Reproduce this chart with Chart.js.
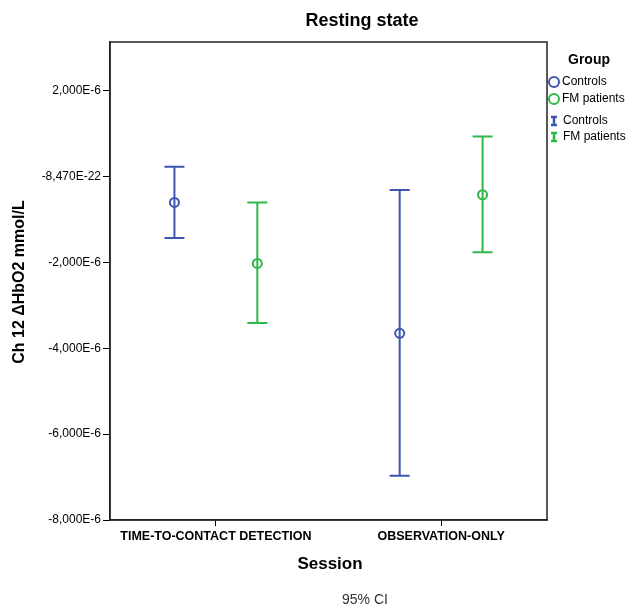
<!DOCTYPE html>
<html>
<head>
<meta charset="utf-8">
<script src="https://cdn.jsdelivr.net/npm/chart.js@4.4.1/dist/chart.umd.min.js"></script>
<style>
  html, body { margin: 0; padding: 0; background: #fff; }
</style>
</head>
<body>
<canvas id="myChart" width="630" height="608"></canvas>
<script>
const sessions = ['TIME-TO-CONTACT DETECTION', 'OBSERVATION-ONLY'];
const groups = ['Controls', 'FM patients'];
const groupColors = ['#3d55b0', '#2eb848'];

// means and 95% CI bounds per session
const controlsMean = [-0.60e-6, -3.65e-6];
const controlsLow = [-1.43e-6, -6.97e-6];
const controlsHigh = [0.235e-6, -0.31e-6];
const fmMean = [-2.02e-6, -0.42e-6];
const fmLow = [-3.41e-6, -1.76e-6];
const fmHigh = [-0.60e-6, 0.94e-6];

const yTickValues = [2e-6, -8.47e-22, -2e-6, -4e-6, -6e-6, -8e-6];
const yTickLabels = ['2,000E-6', '-8,470E-22', '-2,000E-6', '-4,000E-6', '-6,000E-6', '-8,000E-6'];

const groupOffset = 0.184;
const FONT = '"Liberation Sans", Arial, sans-serif';

function points(means, off) {
    return means.map((m, i) => ({ x: i + 1 + off, y: m }));
}

const ctx = document.getElementById('myChart').getContext('2d');

const errorBars = {
    id: 'errorBars',
    beforeDatasetsDraw(chart) {
        const c = chart.ctx;
        const xs = chart.scales.x, ys = chart.scales.y;
        chart.data.datasets.forEach(ds => {
            c.save();
            c.strokeStyle = ds.borderColor;
            c.lineWidth = 2;
            ds.low.forEach((lo, i) => {
                const x = xs.getPixelForValue(i + 1 + ds.off);
                const y1 = ys.getPixelForValue(lo);
                const y2 = ys.getPixelForValue(ds.high[i]);
                c.beginPath();
                c.moveTo(x, y1); c.lineTo(x, y2);
                c.moveTo(x - 10, y1); c.lineTo(x + 10, y1);
                c.moveTo(x - 10, y2); c.lineTo(x + 10, y2);
                c.stroke();
            });
            c.restore();
        });
    }
};

const decorations = {
    id: 'decorations',
    afterDraw(chart) {
        const c = chart.ctx;
        const a = chart.chartArea;
        c.save();
        // plot frame
        c.strokeStyle = '#222';
        c.lineWidth = 1.5;
        c.strokeRect(a.left, a.top, a.right - a.left, a.bottom - a.top);

        c.fillStyle = '#000';
        c.textAlign = 'center';
        c.textBaseline = 'middle';
        c.font = 'bold 18px ' + FONT;
        c.fillText('Resting state', 362, 21);

        c.font = 'bold 17px ' + FONT;
        c.fillText('Session', 330, 564);

        c.font = '14px ' + FONT;
        c.fillStyle = '#333';
        c.fillText('95% CI', 365, 600);

        c.fillStyle = '#000';
        c.save();
        c.translate(20, 282);
        c.rotate(-Math.PI / 2);
        c.font = 'bold 16px ' + FONT;
        c.fillText('Ch 12 \u0394HbO2 mmol/L', 0, 0);
        c.restore();

        // legend
        c.font = 'bold 14px ' + FONT;
        c.fillText('Group', 589, 60);
        c.textAlign = 'left';
        c.font = '12px ' + FONT;
        groups.forEach((g, i) => {
            const y1 = 82 + i * 17;
            c.strokeStyle = groupColors[i];
            c.lineWidth = 2;
            c.beginPath();
            c.arc(554, y1, 5, 0, Math.PI * 2);
            c.stroke();
            c.fillText(g, 562, y1);

            const y2 = 121 + i * 16;
            c.lineWidth = 2.5;
            c.beginPath();
            c.moveTo(554, y2 - 4); c.lineTo(554, y2 + 4);
            c.moveTo(551, y2 - 4); c.lineTo(557, y2 - 4);
            c.moveTo(551, y2 + 4); c.lineTo(557, y2 + 4);
            c.stroke();
            c.fillText(g, 563, y2);
        });
        c.restore();
    }
};

new Chart(ctx, {
    type: 'scatter',
    data: {
        datasets: [
            {
                label: groups[0],
                data: points(controlsMean, -groupOffset),
                low: controlsLow, high: controlsHigh, off: -groupOffset,
                borderColor: groupColors[0],
                backgroundColor: 'rgba(0,0,0,0)',
                pointRadius: 4.5,
                borderWidth: 2
            },
            {
                label: groups[1],
                data: points(fmMean, groupOffset),
                low: fmLow, high: fmHigh, off: groupOffset,
                borderColor: groupColors[1],
                backgroundColor: 'rgba(0,0,0,0)',
                pointRadius: 4.5,
                borderWidth: 2
            }
        ]
    },
    options: {
        responsive: false,
        animation: false,
        events: [],
        layout: { padding: { left: 0, right: 83, top: 42, bottom: 0 } },
        plugins: {
            legend: { display: false },
            tooltip: { enabled: false }
        },
        scales: {
            x: {
                type: 'linear',
                min: 0.53,
                max: 2.47,
                afterBuildTicks: s => { s.ticks = [{ value: 1 }, { value: 2 }]; },
                afterFit: s => { s.height = 88; },
                ticks: {
                    callback: (v, i) => sessions[i],
                    color: '#000',
                    font: { family: FONT, size: 12.5, weight: 'bold' },
                    maxRotation: 0,
                    autoSkip: false,
                    padding: 3
                },
                grid: { drawOnChartArea: false, tickLength: 6, color: '#000' },
                border: { color: '#222', width: 1.5 }
            },
            y: {
                type: 'linear',
                min: -8e-6,
                max: 3.14e-6,
                afterBuildTicks: s => { s.ticks = yTickValues.map(v => ({ value: v })); },
                afterFit: s => { s.width = 110; },
                ticks: {
                    callback: (v, i) => yTickLabels[i],
                    color: '#000',
                    font: { family: FONT, size: 12 },
                    padding: 2
                },
                grid: { drawOnChartArea: false, tickLength: 7, color: '#000' },
                border: { color: '#222', width: 1.5 }
            }
        }
    },
    plugins: [errorBars, decorations]
});
</script>
</body>
</html>
